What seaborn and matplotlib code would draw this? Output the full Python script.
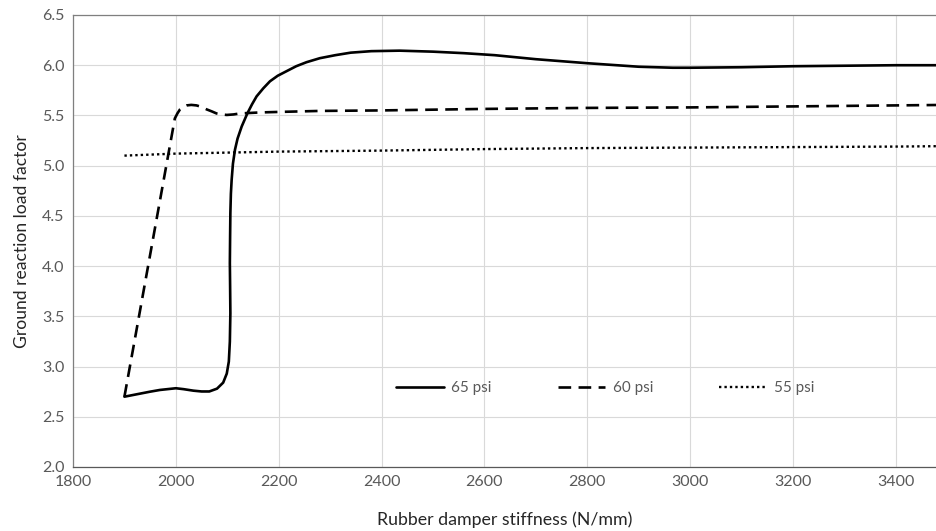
import matplotlib
matplotlib.use("Agg")
import matplotlib.pyplot as plt
import numpy as np
import seaborn as sns

# values
x_65 = [1900, 1950, 1969, 2000, 2015, 2034, 2050, 2065, 2080, 2092, 2099, 2103, 2105,
        2106, 2105.5, 2105, 2105.5, 2106, 2107, 2108.5, 2111, 2115, 2120, 2128, 2139,
        2148, 2157, 2170, 2183, 2198, 2215, 2234, 2254, 2280, 2310, 2340, 2380, 2435,
        2500, 2560, 2620, 2700, 2800, 2900, 2966, 3000, 3100, 3200, 3300, 3400, 3500]
y_65 = [2.70, 2.75, 2.767, 2.784, 2.775, 2.76, 2.752, 2.752, 2.78, 2.84, 2.93, 3.05, 3.25,
        3.53, 3.80, 4.03, 4.30, 4.53, 4.72, 4.86, 5.02, 5.16, 5.27, 5.39, 5.52,
        5.61, 5.69, 5.77, 5.84, 5.895, 5.94, 5.99, 6.03, 6.07, 6.10, 6.125, 6.14, 6.145,
        6.135, 6.12, 6.10, 6.06, 6.02, 5.985, 5.975, 5.975, 5.98, 5.99, 5.995, 6.00, 6.00]

x_60 = [1900, 1998, 2003, 2008, 2014, 2021, 2030, 2040, 2050, 2060, 2070, 2079, 2089,
        2099, 2112, 2125, 2164, 2200, 2280, 2400, 2600, 2800, 3000, 3200, 3400, 3500]
y_60 = [2.70, 5.47, 5.52, 5.56, 5.585, 5.60, 5.605, 5.60, 5.585, 5.56, 5.54, 5.52, 5.51,
        5.505, 5.51, 5.52, 5.53, 5.535, 5.545, 5.55, 5.565, 5.575, 5.58, 5.59, 5.60, 5.605]

x_55 = [1900, 2000, 2100, 2200, 2400, 2600, 2800, 3000, 3200, 3400, 3500]
y_55 = [5.10, 5.12, 5.13, 5.14, 5.15, 5.165, 5.175, 5.18, 5.185, 5.19, 5.195]

labels = ["65 psi", "60 psi", "55 psi"]

sns.set_style("white")
plt.rcParams["font.family"] = ["Lato", "DejaVu Sans"]

fig = plt.figure(figsize=(9.37, 5.31), dpi=100)
ax = fig.add_axes([73 / 937, 64 / 531, 1 - 73 / 937, 452 / 531])

styles = ["-", (0, (4.8, 2.8)), (0, (1.0, 1.3))]
widths = [1.9, 1.9, 1.7]
for xs, ys, lab, ls, lw in zip([x_65, x_60, x_55], [y_65, y_60, y_55], labels, styles, widths):
    sns.lineplot(x=xs, y=ys, ax=ax, color="black", linewidth=lw, linestyle=ls,
                 sort=False, estimator=None, label=lab)
for line in ax.get_lines():
    line.set_solid_joinstyle("round")
    line.set_dash_joinstyle("round")

ax.set_xlim(1800, 3480)
ax.set_ylim(2.0, 6.5)
ax.set_xticks(np.arange(1800, 3401, 200))
ax.set_yticks(np.arange(2.0, 6.51, 0.5))
ax.set_yticklabels([f"{v:.1f}" for v in np.arange(2.0, 6.51, 0.5)])
ax.grid(True, color="#d9d9d9", linewidth=0.8)
ax.set_axisbelow(True)
ax.tick_params(axis="both", length=0, labelsize=11.5, labelcolor="#595959", pad=6)

for side in ["left", "top", "bottom"]:
    ax.spines[side].set_color("#7f7f7f")
    ax.spines[side].set_linewidth(0.9)
ax.spines["right"].set_visible(False)
ax.spines["bottom"].set_color("#595959")

ax.set_xlabel("Rubber damper stiffness (N/mm)", fontsize=12.8, color="#262626", labelpad=16)
ax.set_ylabel("Ground reaction load factor", fontsize=12.6, color="#262626", labelpad=9)

ax.legend(ncol=3, frameon=False, loc="center", bbox_to_anchor=(0.616, 0.175),
          fontsize=11, labelcolor="#595959", handlelength=3.1, handletextpad=0.5,
          columnspacing=4.3)

fig.savefig("out.png", dpi=100)
